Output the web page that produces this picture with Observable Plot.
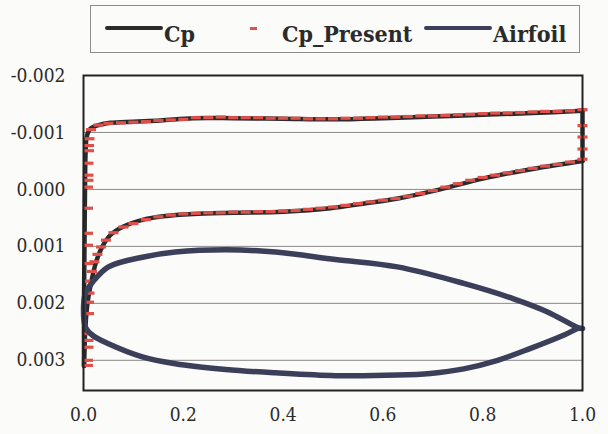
<!DOCTYPE html>
<html><head><meta charset="utf-8">
<script src="https://cdn.jsdelivr.net/npm/d3@7"></script>
<script src="https://cdn.jsdelivr.net/npm/@observablehq/plot@0.6"></script>
<style>
body{margin:0;background:#fbfbf9;}
#wrap{position:relative;width:608px;height:434px;font-family:'DejaVu Serif Condensed','DejaVu Serif',serif;font-stretch:condensed;color:#2b2b2b;}
#legend{position:absolute;left:90px;top:5px;width:490px;height:48px;border:1px solid #8c8c8c;box-sizing:border-box;}
.lt{position:absolute;top:22px;font-weight:bold;font-size:23px;line-height:23px;white-space:nowrap;}
.sw{position:absolute;}
#chart{position:absolute;left:0;top:60px;}
#chart svg text{font-family:'DejaVu Serif Condensed','DejaVu Serif',serif;font-stretch:condensed;}
</style></head>
<body><div id="wrap">
<div id="legend"></div>
<div class="sw" style="left:105px;top:26px;width:58px;height:4px;background:#2b2b2b;border-radius:2px"></div>
<div class="lt" style="left:164px">Cp</div>
<div class="sw" style="left:250px;top:27px;width:7px;height:3px;background:#e0504a"></div>
<div class="lt" style="left:282px">Cp_Present</div>
<div class="sw" style="left:424px;top:26px;width:68px;height:4px;background:#3c3f5a;border-radius:2px"></div>
<div class="lt" style="left:493px">Airfoil</div>
<div id="chart"></div>
</div>
<script>
// Cp (solid line), closed loop: stagnation -> suction side -> TE -> pressure side -> stagnation
const cpX = [0.001, 0.001, 0.002, 0.003, 0.004, 0.006, 0.010, 0.016, 0.030, 0.054, 0.100, 0.154, 0.220, 0.300, 0.400, 0.500, 0.600, 0.700, 0.800, 0.900, 1.000,
             1.000, 0.900, 0.800, 0.715, 0.630, 0.560, 0.495, 0.400, 0.300, 0.220, 0.160, 0.120, 0.080, 0.054, 0.038, 0.025, 0.015, 0.008, 0.004, 0.001];
const cpY = [0.00310, 0.00200, 0.00100, 0.00000, -0.00060, -0.00090, -0.00102, -0.00108, -0.00113, -0.00117, -0.00119, -0.00121, -0.00125, -0.00125, -0.00124, -0.00123, -0.00125, -0.00128, -0.00131, -0.00134, -0.00138,
             -0.00050, -0.00036, -0.00019, 0.00000, 0.00016, 0.00025, 0.00033, 0.00039, 0.00041, 0.00043, 0.00047, 0.00053, 0.00065, 0.00080, 0.00100, 0.00128, 0.00165, 0.00200, 0.00240, 0.00310];

// Cp_Present (dash markers)
const presX = [0.009, 0.009, 0.010, 0.010, 0.010, 0.011, 0.011, 0.012, 0.009, 0.009, 0.009, 0.009, 0.009, 0.010, 0.010, 0.010, 0.011, 0.011, 0.012,
  0.015, 0.030, 0.050, 0.075, 0.100, 0.125, 0.150, 0.175, 0.200, 0.225, 0.250, 0.275, 0.300, 0.325, 0.350, 0.375, 0.400, 0.425, 0.450, 0.475, 0.500,
  0.525, 0.550, 0.575, 0.600, 0.625, 0.650, 0.675, 0.700, 0.725, 0.750, 0.775, 0.800, 0.825, 0.850, 0.875, 0.900, 0.925, 0.950, 0.975, 1.000,
  1.000, 1.000, 1.000,
  1.000, 0.975, 0.950, 0.925, 0.900, 0.875, 0.850, 0.825, 0.800, 0.775, 0.750, 0.725, 0.700, 0.675, 0.650, 0.625, 0.600, 0.575, 0.550, 0.525, 0.500,
  0.475, 0.450, 0.425, 0.400, 0.375, 0.350, 0.325, 0.300, 0.275, 0.250, 0.225, 0.200, 0.175, 0.150, 0.125, 0.100, 0.080, 0.060, 0.045, 0.035,
  0.028, 0.022, 0.017, 0.013];
const presY = [0.00309, 0.00300, 0.00277, 0.00265, 0.00253, 0.00218, 0.00198, 0.00182, 0.00130, 0.00098, 0.00077, 0.00033, -0.00004, -0.00016, -0.00025, -0.00046, -0.00068, -0.00077, -0.00089,
  -0.00105, -0.00113, -0.00116, -0.00117, -0.00118, -0.00119, -0.00121, -0.00122, -0.00123, -0.00126, -0.00126, -0.00127, -0.00126, -0.00126, -0.00126, -0.00125, -0.00125, -0.00125, -0.00124, -0.00124, -0.00124,
  -0.00125, -0.00125, -0.00126, -0.00127, -0.00127, -0.00128, -0.00129, -0.00129, -0.00130, -0.00131, -0.00132, -0.00133, -0.00134, -0.00134, -0.00135, -0.00136, -0.00137, -0.00137, -0.00138, -0.00140,
  -0.00112, -0.00092, -0.00071,
  -0.00053, -0.00048, -0.00044, -0.00041, -0.00037, -0.00033, -0.00029, -0.00025, -0.00021, -0.00016, -0.00010, -0.00004, 0.00002, 0.00007, 0.00012, 0.00016, 0.00019, 0.00022, 0.00025, 0.00028, 0.00031,
  0.00033, 0.00035, 0.00037, 0.00038, 0.00039, 0.00039, 0.00040, 0.00040, 0.00041, 0.00041, 0.00042, 0.00043, 0.00045, 0.00048, 0.00053, 0.00060, 0.00066, 0.00076, 0.00089, 0.00101,
  0.00114, 0.00127, 0.00144, 0.00161];

// Airfoil outline (drawn on the same axis)
const foilX = [1.000, 0.992, 0.930, 0.862, 0.762, 0.629, 0.505, 0.385, 0.285, 0.184, 0.118, 0.050, 0.018, 0.004, 0.000,
               0.004, 0.018, 0.050, 0.118, 0.184, 0.285, 0.385, 0.505, 0.629, 0.695, 0.762, 0.830, 0.896, 0.962, 0.992, 1.000];
const foilY = [0.00244, 0.00243, 0.00215, 0.00192, 0.00165, 0.00136, 0.00123, 0.00110, 0.00106, 0.00110, 0.00119, 0.00136, 0.00163, 0.00182, 0.00212,
               0.00242, 0.00256, 0.00271, 0.00294, 0.00306, 0.00316, 0.00322, 0.00327, 0.00326, 0.00323, 0.00315, 0.00300, 0.00279, 0.00256, 0.00244, 0.00244];

const xTicks = [0, 0.2, 0.4, 0.6, 0.8, 1.0];
const yTicks = [-0.002, -0.001, 0, 0.001, 0.002, 0.003];

const cp = cpX.map((x, i) => ({x, y: cpY[i]}));
const pres = presX.map((x, i) => ({x, y: presY[i]}));
const foil = foilX.map((x, i) => ({x, y: foilY[i]}));

const dash = {draw(ctx) { ctx.rect(-5, -1.6, 10, 3.2); }};
const cpStyle = {x: "x", y: "y", stroke: "#2b2b2b", strokeWidth: 4.5, curve: "catmull-rom"};

const chart = Plot.plot({
  width: 608, height: 374,
  marginLeft: 83, marginRight: 26, marginTop: 15, marginBottom: 44,
  style: {fontSize: "19px", color: "#2b2b2b", background: "transparent"},
  x: {domain: [0, 1], ticks: xTicks, tickFormat: d => d.toFixed(1), tickSize: 0, tickPadding: 17, label: null},
  y: {domain: [-0.002, 0.00353], reverse: true, ticks: yTicks, tickFormat: d => (Math.abs(d) < 1e-12 ? 0 : d).toFixed(3), tickSize: 0, tickPadding: 18, label: null},
  marks: [
    Plot.ruleY(yTicks.slice(1), {stroke: "#8a8a8a", strokeWidth: 1}),
    Plot.line(cp.slice(0, 21), cpStyle),
    Plot.line(cp.slice(20, 22), cpStyle),
    Plot.line(cp.slice(21), cpStyle),
    Plot.dot(pres, {x: "x", y: "y", symbol: dash, fill: "#e0504a", stroke: "none"}),
    Plot.line(foil, {x: "x", y: "y", stroke: "#3c3f5a", strokeWidth: 5.5, curve: "catmull-rom"}),
    Plot.frame({stroke: "#222", strokeWidth: 2})
  ]
});
document.getElementById("chart").append(chart);
</script>
</body></html>
